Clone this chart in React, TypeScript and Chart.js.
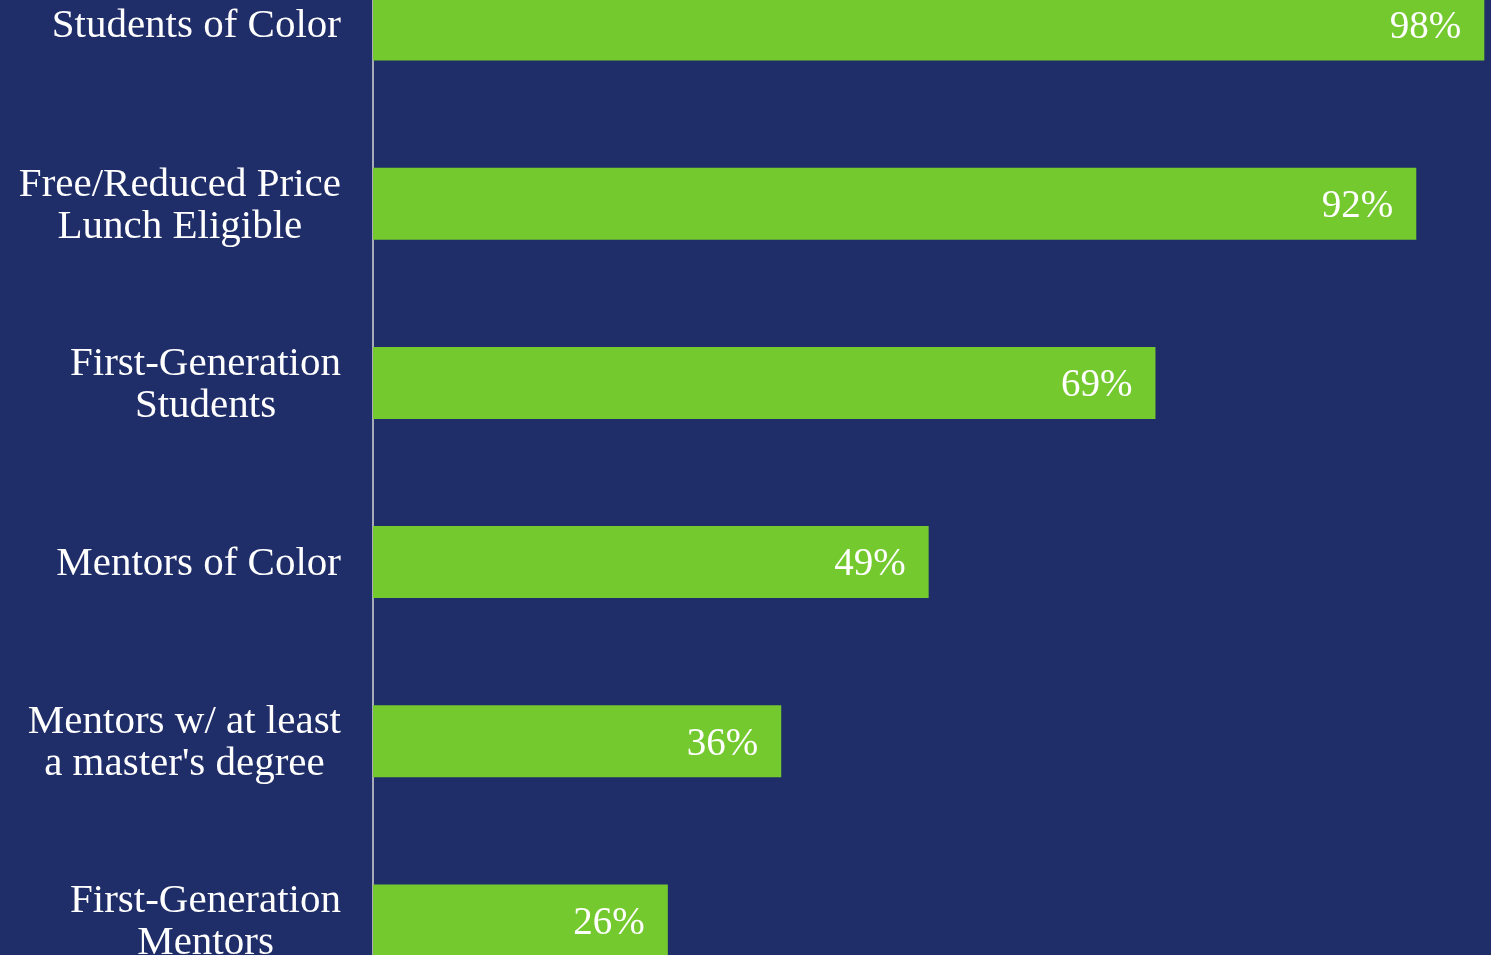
import React, { useEffect, useRef } from "react";
import { Chart, registerables } from "chart.js";

Chart.register(...registerables);

const categories: string[][] = [
  ["Students of Color"],
  ["Free/Reduced Price", "Lunch Eligible"],
  ["First-Generation", "Students"],
  ["Mentors of Color"],
  ["Mentors w/ at least", "a master's degree"],
  ["First-Generation", "Mentors"],
];
const values: number[] = [98, 92, 69, 49, 36, 26];

const BG = "#1F2D68";
const GREEN = "#74C92F";
const FONT = "41px 'Liberation Serif'";
const VALUE_FONT = "39px 'Liberation Serif'";

const labelPlugin = {
  id: "customLabels",
  afterDatasetsDraw(chart: any) {
    const ctx = chart.ctx;
    const yScale = chart.scales.y;
    const xScale = chart.scales.x;
    ctx.save();
    ctx.font = FONT;
    ctx.fillStyle = "#FFFFFF";
    ctx.textBaseline = "middle";
    const labels = chart.data.labels as string[][];
    const rightEdge = chart.chartArea.left - 32;
    const lineH = 42;
    labels.forEach((lines, i) => {
      const y = yScale.getPixelForValue(i);
      const widest = Math.max(...lines.map((l) => ctx.measureText(l).width));
      const cx = rightEdge - widest / 2;
      ctx.textAlign = "center";
      lines.forEach((l, j) => {
        const ly = y + 2 + (j - (lines.length - 1) / 2) * lineH;
        ctx.fillText(l, cx, ly);
      });
    });
    const data = chart.data.datasets[0].data as number[];
    ctx.font = VALUE_FONT;
    ctx.textAlign = "right";
    data.forEach((v, i) => {
      const x = xScale.getPixelForValue(v);
      const y = yScale.getPixelForValue(i);
      ctx.fillText(`${v}%`, x - 23, y + 3);
    });
    ctx.restore();
  },
};

export default function App() {
  const ref = useRef<HTMLCanvasElement>(null);
  useEffect(() => {
    if (!ref.current) return;
    const chart = new Chart(ref.current, {
      type: "bar",
      data: {
        labels: categories as any,
        datasets: [
          {
            data: values,
            backgroundColor: GREEN,
            borderWidth: 0,
            categoryPercentage: 1,
            barPercentage: 0.402,
          },
        ],
      },
      options: {
        indexAxis: "y",
        responsive: false,
        animation: false,
        layout: { padding: 0 },
        plugins: { legend: { display: false }, tooltip: { enabled: false } },
        scales: {
          x: { display: false, min: 0, max: 100 },
          y: {
            afterFit: (s: any) => {
              s.width = 373;
            },
            ticks: { display: false },
            grid: { display: false, drawTicks: false },
            border: { display: true, color: "#A9AAB8", width: 2 },
          },
        },
      },
      plugins: [labelPlugin],
    });
    return () => chart.destroy();
  }, []);
  return (
    <div
      style={{
        position: "fixed",
        left: 0,
        top: 0,
        width: 1491,
        height: 955,
        overflow: "hidden",
        background: BG,
      }}
    >
      <canvas
        ref={ref}
        width={1507}
        height={1075}
        style={{ position: "absolute", left: 0, top: -65, display: "block" }}
      />
    </div>
  );
}
